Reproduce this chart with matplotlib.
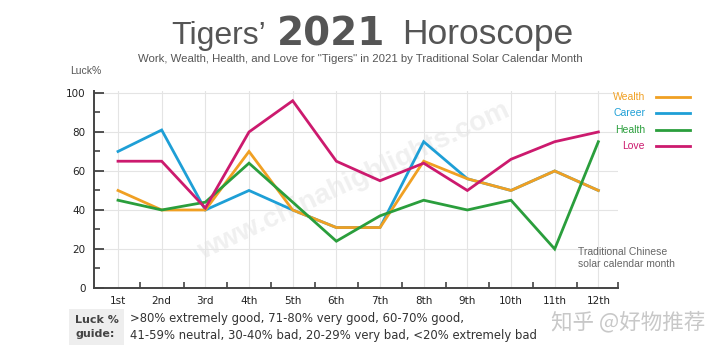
import matplotlib
matplotlib.use('Agg')
from matplotlib import pyplot as plt
from matplotlib.ticker import MultipleLocator, FixedLocator

months = ['1st', '2nd', '3rd', '4th', '5th', '6th', '7th', '8th', '9th', '10th', '11th', '12th']
wealth = [50, 40, 40, 70, 40, 31, 31, 65, 56, 50, 60, 50]
career = [70, 81, 40, 50, 40, 31, 31, 75, 56, 50, 60, 50]
health = [45, 40, 44, 64, 44, 24, 37, 45, 40, 45, 20, 75]
love = [65, 65, 41, 80, 96, 65, 55, 64, 50, 66, 75, 80]

series = [('Wealth', wealth, '#f0a023'),
          ('Career', career, '#1e9fd6'),
          ('Health', health, '#2a9e3c'),
          ('Love', love, '#cc1a6e')]

plt.rcParams['font.family'] = ['Liberation Sans', 'DejaVu Sans']

fig = plt.figure(figsize=(7.2, 3.46), dpi=100)
ax = fig.add_axes([94 / 720, 1 - 288 / 346, 524 / 720, 197 / 346])

x = list(range(1, 13))
# career first so wealth covers it where they run together
for name in ['Career', 'Wealth', 'Health', 'Love']:
    label, vals, col = [s for s in series if s[0] == name][0]
    ax.plot(x, vals, color=col, lw=2, solid_joinstyle='miter', zorder=3)

ax.set_xlim(0.45, 12.45)
ax.set_ylim(0, 101)
ax.set_xticks(x)
ax.set_xticklabels(months, fontsize=7.5, family='DejaVu Sans', color='#222222')
ax.xaxis.set_minor_locator(FixedLocator([i + 0.5 for i in range(1, 12)] + [12.45]))
ax.yaxis.set_major_locator(MultipleLocator(20))
ax.yaxis.set_minor_locator(MultipleLocator(10))
ax.tick_params(axis='y', which='major', direction='in', length=7, width=1.3,
               color='#444444', labelsize=7.5, labelcolor='#222222', pad=6)
ax.tick_params(axis='y', which='minor', direction='in', length=4, width=1.2, color='#444444')
ax.tick_params(axis='x', which='major', length=0, pad=6)
ax.tick_params(axis='x', which='minor', direction='in', length=4, width=1.2, color='#444444')
for lab in ax.get_yticklabels():
    lab.set_family('DejaVu Sans')

for s in ['top', 'right']:
    ax.spines[s].set_visible(False)
for s in ['left', 'bottom']:
    ax.spines[s].set_color('#444444')
    ax.spines[s].set_linewidth(1.4)
ax.grid(True, which='major', color='#e4e4e4', lw=0.8, zorder=0)

# faint site watermark across the plot
ax.text(6.4, 55, 'www.chinahighlights.com', rotation=25, fontsize=20, fontweight='bold',
        color='#f0f0f0', ha='center', va='center', zorder=1)

# title
fig.text(266 / 720, 1 - 44 / 346, "Tigers\u2019", fontsize=23, color='#555555', ha='right', va='baseline')
fig.text(277 / 720, 1 - 46 / 346, '2021', fontsize=28, fontweight='bold', color='#555555',
         ha='left', va='baseline', family='DejaVu Sans')
fig.text(402 / 720, 1 - 44 / 346, 'Horoscope', fontsize=25.5, color='#555555', ha='left', va='baseline')
fig.text(360 / 720, 1 - 62 / 346,
         'Work, Wealth, Health, and Love for "Tigers" in 2021 by Traditional Solar Calendar Month',
         fontsize=8.2, color='#555555', ha='center', va='baseline')
fig.text(70 / 720, 1 - 74 / 346, 'Luck%', fontsize=7.5, color='#555555', ha='left', va='baseline')

# legend as coloured labels with short line samples
leg_y = [97, 113, 130, 146]
for (label, vals, col), yy in zip(series, leg_y):
    fy = 1 - yy / 346
    fig.text(645 / 720, fy, label, fontsize=7.5, color=col, ha='right', va='center')
    fig.add_artist(plt.Line2D([656 / 720, 690 / 720], [fy, fy], color=col, lw=2))

fig.text(578 / 720, 1 - 258 / 346, 'Traditional Chinese\nsolar calendar month', fontsize=7.5,
         color='#666666', ha='left', va='center', linespacing=1.2)

# luck guide below the chart
fig.text(75 / 720, 1 - 327 / 346, 'Luck %\nguide:', fontsize=8, fontweight='bold', color='#444444',
         ha='left', va='center', family='DejaVu Sans', linespacing=1.5,
         bbox=dict(boxstyle='square,pad=0.5', fc='#eeeeee', ec='none'))
fig.text(130 / 720, 1 - 327 / 346,
         '>80% extremely good, 71-80% very good, 60-70% good,\n'
         '41-59% neutral, 30-40% bad, 20-29% very bad, <20% extremely bad',
         fontsize=8.4, color='#333333', ha='left', va='center', family='DejaVu Sans', linespacing=1.4)

fig.text(705 / 720, 1 - 322 / 346, '知乎 @好物推荐', fontsize=15.5, color='#c8c8c8', ha='right', va='center',
         family=['Noto Sans CJK SC', 'DejaVu Sans'])

fig.savefig('out.png', dpi=100, facecolor='white')
